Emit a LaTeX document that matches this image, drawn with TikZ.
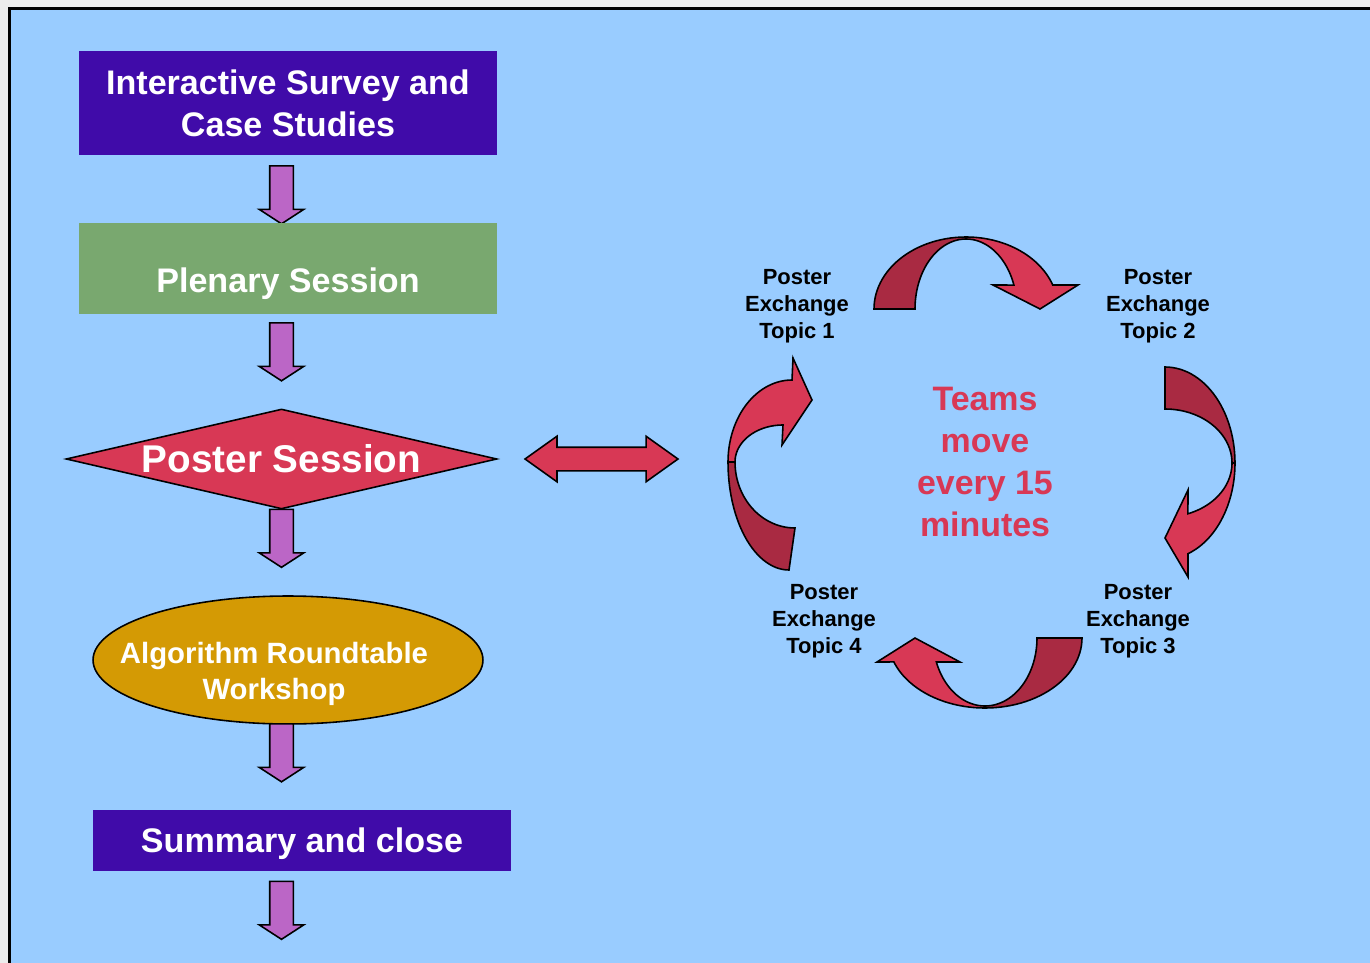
\documentclass[tikz,border=0pt]{standalone}
\usepackage{fontspec}
\setmainfont{Liberation Sans}
\usetikzlibrary{shapes.geometric, shapes.arrows}
\definecolor{bgblue}{HTML}{99CCFF}
\definecolor{boxpurple}{HTML}{400BA9}
\definecolor{plengreen}{HTML}{79A86F}
\definecolor{wsgold}{HTML}{D49A04}
\definecolor{crimson}{HTML}{D83855}
\definecolor{darkcrimson}{HTML}{A92A42}
\definecolor{arrowpurple}{HTML}{BB66C6}
\tikzset{
  box/.style={rectangle, inner sep=0pt, minimum width=8.36cm},
  title/.style={text=white, font=\bfseries\fontsize{19.4}{23.9}\selectfont, align=center},
  downarrow/.style={single arrow, draw=black, fill=arrowpurple, inner xsep=0pt, inner ysep=0.22cm,
    minimum height=1.16cm, single arrow head extend=0.21cm,
    single arrow tip angle=114, rotate=-90},
  topic/.style={font=\bfseries\fontsize{12.5}{15.4}\selectfont, align=center},
  frontpart/.style={fill=crimson, draw=black},
  backpart/.style={fill=darkcrimson, draw=black},
}

\begin{document}
\begin{tikzpicture}[x=0.02cm, y=-0.02cm, line width=0.9pt]
    \useasboundingbox (0,0) rectangle (1370,963);
    \fill[gray!15] (0,0) rectangle (1370,963);
    \fill[bgblue] (9,8) rectangle (1370,963);
    \draw[line width=1.2pt] (9.5,963) -- (9.5,8.5) -- (1370,8.5);

    % left column
    \node[box, fill=boxpurple, minimum height=2.08cm, title] (survey) at (288,103) {Interactive Survey and\\Case Studies};
    \node[downarrow] (a1) at (281.5,191) {};
    \node[box, fill=plengreen, minimum height=1.82cm] (plenary) at (288,268.5) {};
    \node[title, text depth=0pt] (plenarytext) at (288,280) {Plenary Session};
    \node[downarrow] (a2) at (281.5,348) {};
    \node[diamond, aspect=4.31, draw=black, fill=crimson, inner sep=0pt, minimum width=8.62cm, minimum height=2cm,
          text=white, font=\bfseries\fontsize{22}{26}\selectfont] (poster) at (281.5,459) {Poster Session};
    \node[downarrow] (a3) at (281.5,534.5) {};
    \node[ellipse, draw=black, fill=wsgold, inner sep=0pt, minimum width=7.8cm, minimum height=2.56cm] (workshop) at (288,660) {};
    \node[text=white, font=\bfseries\fontsize{16.7}{20.5}\selectfont, align=center] (workshoptext) at (274,674) {Algorithm Roundtable\\Workshop};
    \node[downarrow] (a4) at (281.5,749) {};
    \node[box, fill=boxpurple, minimum height=1.22cm, title, text depth=0pt] (summary) at (302,840.5) {Summary and close};
    \node[downarrow] (a5) at (281.5,906.5) {};

    % link to the rotation
    \node[double arrow, draw=black, fill=crimson, inner xsep=0pt, inner ysep=0.22cm, minimum height=3.06cm,
          double arrow head extend=0.22cm, double arrow tip angle=71] (link) at (601.5,459) {};

    % rotation of the teams
    \node[topic] (topic1) at (797,306) {Poster\\Exchange\\Topic 1};
    \node[topic] (topic2) at (1158,306) {Poster\\Exchange\\Topic 2};
    \node[topic] (topic3) at (1138,621) {Poster\\Exchange\\Topic 3};
    \node[topic] (topic4) at (824,621) {Poster\\Exchange\\Topic 4};
    \node[text=crimson, font=\bfseries\fontsize{19.3}{23.9}\selectfont, align=center] (teams) at (985,462) {Teams\\move\\every 15\\minutes};

    % 1 -> 2
    \filldraw[backpart] plot[domain=180:270, samples=30] ({966+92*cos(\x)},{309+72*sin(\x)})
      -- plot[domain=270:180, samples=30] ({966+51*cos(\x)},{309+70*sin(\x)}) -- cycle;
    \filldraw[frontpart] plot[domain=270:340.5, samples=30] ({966+92*cos(\x)},{309+72*sin(\x)})
      -- (1078,285) -- (1040,309) -- (993,285)
      -- plot[domain=340:270, samples=30] ({966+51*cos(\x)},{309+70*sin(\x)}) -- cycle;
    % 2 -> 3
    \filldraw[backpart] plot[domain=270:360, samples=30] ({1165+70*cos(\x)},{463+96*sin(\x)})
      -- plot[domain=360:270, samples=30] ({1165+67*cos(\x)},{463+54*sin(\x)}) -- cycle;
    \filldraw[frontpart] plot[domain=0:70.8, samples=30] ({1165+70*cos(\x)},{463+96*sin(\x)})
      -- (1188,577) -- (1165,538) -- (1188,490)
      -- plot[domain=70:0, samples=30] ({1165+67*cos(\x)},{463+54*sin(\x)}) -- cycle;
    % 3 -> 4
    \filldraw[backpart] plot[domain=0:90, samples=30] ({985+97*cos(\x)},{638+70*sin(\x)})
      -- plot[domain=90:0, samples=30] ({985+52*cos(\x)},{638+68*sin(\x)}) -- cycle;
    \filldraw[frontpart] plot[domain=90:160, samples=30] ({985+97*cos(\x)},{638+70*sin(\x)})
      -- (877,662) -- (915,638) -- (960,662)
      -- plot[domain=159.3:90, samples=30] ({985+52*cos(\x)},{638+68*sin(\x)}) -- cycle;
    % 4 -> 1
    \filldraw[backpart] plot[domain=90:180, samples=30] ({789+61*cos(\x)},{462+108*sin(\x)})
      -- plot[domain=180:90, samples=30] ({795+60*cos(\x)},{462+66*sin(\x)}) -- cycle;
    \filldraw[frontpart] plot[domain=180:270, samples=30] ({792+64*cos(\x)},{462+82*sin(\x)})
      -- (793,358) -- (812,400) -- (782,445)
      -- plot[domain=270:180, samples=30] ({783+48*cos(\x)},{462+37*sin(\x)}) -- cycle;
\end{tikzpicture}
\end{document}
